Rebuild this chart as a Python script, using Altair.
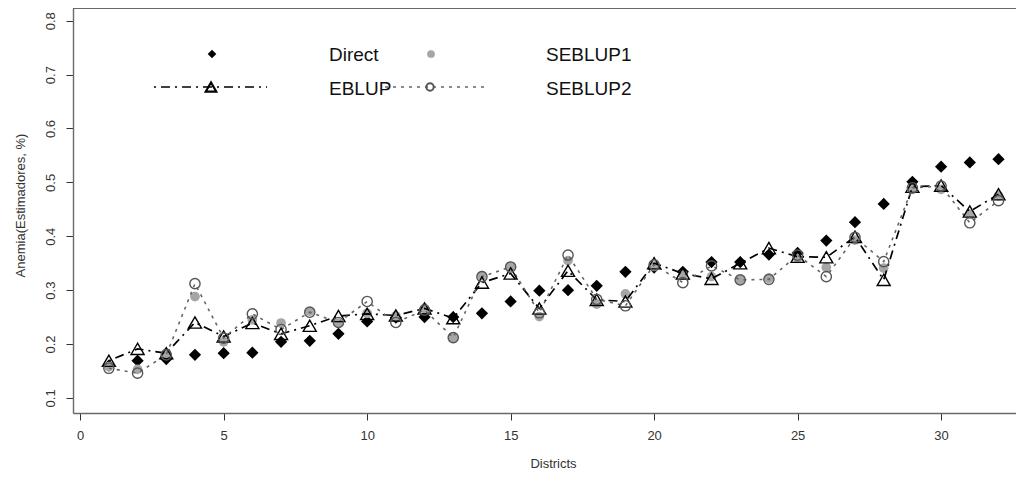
import altair as alt
import pandas as pd

# ---- data ----
districts = list(range(1, 33))
direct = [0.160, 0.169, 0.172, 0.180, 0.183, 0.184, 0.204, 0.206, 0.219, 0.242,
          0.249, 0.250, 0.250, 0.257, 0.279, 0.299, 0.300, 0.308, 0.334, 0.342,
          0.334, 0.352, 0.352, 0.366, 0.369, 0.392, 0.426, 0.460, 0.501, 0.529,
          0.537, 0.543]
eblup = [0.169, 0.191, 0.183, 0.240, 0.214, 0.239, 0.219, 0.234, 0.252, 0.256,
         0.253, 0.266, 0.248, 0.314, 0.331, 0.266, 0.336, 0.282, 0.279, 0.350,
         0.331, 0.321, 0.350, 0.378, 0.362, 0.361, 0.399, 0.319, 0.492, 0.494,
         0.446, 0.478]
seblup1 = [0.158, 0.153, 0.183, 0.288, 0.204, 0.245, 0.239, 0.261, 0.239, 0.257,
           0.252, 0.266, 0.212, 0.327, 0.344, 0.251, 0.355, 0.274, 0.293, 0.344,
           0.328, 0.325, 0.319, 0.322, 0.359, 0.342, 0.393, 0.341, 0.487, 0.487,
           0.441, 0.475]
seblup2 = [0.155, 0.146, 0.180, 0.312, 0.211, 0.256, 0.227, 0.259, 0.240, 0.279,
           0.240, 0.263, 0.212, 0.325, 0.343, 0.258, 0.365, 0.283, 0.271, 0.347,
           0.314, 0.345, 0.319, 0.320, 0.365, 0.325, 0.398, 0.353, 0.490, 0.493,
           0.425, 0.466]
series_names = ["Direct", "EBLUP", "SEBLUP1", "SEBLUP2"]
x_ticks = [0, 5, 10, 15, 20, 25, 30]
y_ticks = [0.1, 0.2, 0.3, 0.4, 0.5, 0.6, 0.7, 0.8]
x_title = "Districts"
y_title = "Anemia(Estimadores, %)"

df = pd.DataFrame({"district": districts, "direct": direct, "eblup": eblup,
                   "seblup1": seblup1, "seblup2": seblup2})

W, H = 943, 405
FONT = "Liberation Sans"
GRAY_FILL = "#a6a6a6"
CIRC_STROKE = "#555555"
DOT_DASH = [3, 5]
DASH_DOT = [2, 5, 9, 5]

xscale = alt.Scale(domain=[-0.25, 32.61], nice=False, zero=False)
yscale = alt.Scale(domain=[0.072, 0.8236], nice=False, zero=False)

xaxis = alt.Axis(values=x_ticks, grid=False, tickSize=7, tickColor="#333333",
                 domainColor="#6a6a6a", domainWidth=1.4, labelFontSize=13,
                 labelColor="#333333", labelFont=FONT, labelPadding=9,
                 titleFont=FONT, titleFontSize=13, titleFontWeight="normal",
                 titleColor="#333333", titleX=480, titleY=50,
                 titleBaseline="middle", labelFlush=False)
yaxis = alt.Axis(values=y_ticks, format=".1f", grid=False, tickSize=7,
                 tickColor="#333333", domainColor="#6a6a6a", domainWidth=1.4,
                 labelFontSize=13, labelColor="#333333", labelFont=FONT,
                 labelAngle=-90, labelAlign="center", labelBaseline="alphabetic",
                 labelPadding=12, titleFont=FONT, titleFontSize=13,
                 titleFontWeight="normal", titleColor="#333333", titleX=-53,
                 titleY=197, titleBaseline="middle", titleAngle=-90,
                 labelFlush=False)

base = alt.Chart(df)


def X():
    return alt.X("district:Q", scale=xscale, axis=xaxis, title=x_title)


def Y(field):
    return alt.Y(f"{field}:Q", scale=yscale, axis=yaxis, title=y_title)


top_rule = base.mark_rule(color="#6a6a6a", strokeWidth=1.4).encode(
    x=alt.value(0), x2=alt.value(W), y=alt.value(0))

direct_pts = base.mark_point(shape="diamond", filled=True, color="black",
                             size=150, opacity=1).encode(x=X(), y=Y("direct"))
seb1_pts = base.mark_circle(color=GRAY_FILL, size=95, opacity=1).encode(
    x=X(), y=Y("seblup1"))
eblup_line = base.mark_line(color="black", strokeWidth=1.7,
                            strokeDash=DASH_DOT).encode(x=X(), y=Y("eblup"))
eblup_pts = base.mark_point(shape="triangle-up", size=170, filled=False,
                            stroke="black", strokeWidth=1.4, opacity=1).encode(
    x=X(), y=Y("eblup"))
seb2_line = base.mark_line(color="#666666", strokeWidth=1.6,
                           strokeDash=DOT_DASH).encode(x=X(), y=Y("seblup2"))
seb2_pts = base.mark_point(shape="circle", size=105, filled=False,
                           stroke=CIRC_STROKE, strokeWidth=1.4, opacity=1).encode(
    x=X(), y=Y("seblup2"))

# ---- legend (drawn in pixel space like R's legend()) ----
leg = alt.Chart(pd.DataFrame({"k": [0]}))
L_row1, L_row2 = 46, 79
leg_layers = [
    leg.mark_point(shape="diamond", filled=True, color="black", size=75,
                   opacity=1).encode(x=alt.value(139), y=alt.value(L_row1)),
    leg.mark_circle(color=GRAY_FILL, size=60, opacity=1).encode(
        x=alt.value(358), y=alt.value(L_row1)),
    leg.mark_rule(color="black", strokeWidth=1.7, strokeDash=DASH_DOT).encode(
        x=alt.value(81), x2=alt.value(194), y=alt.value(L_row2)),
    leg.mark_point(shape="triangle-up", size=110, filled=False, stroke="black",
                   strokeWidth=2.2, opacity=1).encode(x=alt.value(138),
                                                      y=alt.value(L_row2)),
    leg.mark_rule(color="#666666", strokeWidth=1.6, strokeDash=DOT_DASH).encode(
        x=alt.value(312), x2=alt.value(414), y=alt.value(L_row2)),
    leg.mark_point(shape="circle", size=55, filled=False, stroke=CIRC_STROKE,
                   strokeWidth=2, opacity=1).encode(x=alt.value(357),
                                                    y=alt.value(L_row2)),
]
text_pos = [(256, L_row1 + 1), (256, L_row2 + 2), (473, L_row1 + 1), (473, L_row2 + 2)]
for name, (tx, ty) in zip(series_names, text_pos):
    leg_layers.append(
        leg.mark_text(text=name, font=FONT, fontSize=19, align="left",
                      baseline="middle", color="#111111").encode(
            x=alt.value(tx), y=alt.value(ty)))

chart = alt.layer(
    top_rule, direct_pts, seb1_pts, eblup_line, seb2_line, eblup_pts, seb2_pts,
    *leg_layers
).properties(
    width=W, height=H,
    autosize=alt.AutoSizeParams(type="none"),
    padding={"left": 65, "top": 0, "right": 0, "bottom": 58},
    background="white",
).configure_view(stroke=None)

chart.save("out.html", embed_options={"renderer": "svg", "actions": False})
